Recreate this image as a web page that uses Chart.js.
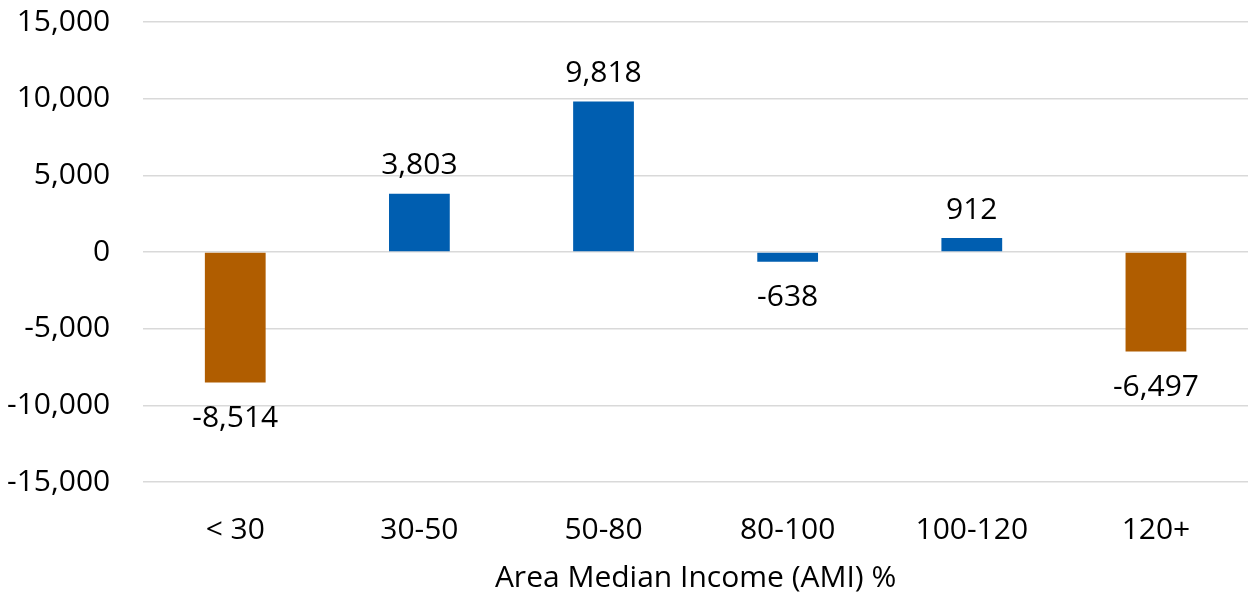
<!DOCTYPE html>
<html>
<head>
<meta charset="utf-8">
<script src="https://cdn.jsdelivr.net/npm/chart.js@4/dist/chart.umd.min.js"></script>
<style>
  html, body { margin: 0; padding: 0; background: #ffffff; }
  #wrap { width: 1248px; height: 596px; position: relative; }
</style>
</head>
<body>
<div id="wrap"><canvas id="amiChart"></canvas></div>
<script>
// AMI bands and net change per band
const categories = ['< 30', '30-50', '50-80', '80-100', '100-120', '120+'];
const netChange = [-8514, 3803, 9818, -638, 912, -6497];
const yTicks = [-15000, -10000, -5000, 0, 5000, 10000, 15000];

const BLUE = '#005EB0';
const ORANGE = '#B05D00';
const FONT = "'Open Sans', 'Noto Sans', sans-serif";
const FONT_SIZE = 30;

const fmt = v => v.toLocaleString('en-US');

// the two big losses are drawn in orange, everything else in blue
const barColors = netChange.map((v, i) => (i === 0 || i === categories.length - 1) ? ORANGE : BLUE);

// value labels: above positive bars, below negative ones
const valueLabels = {
    id: 'valueLabels',
    afterDatasetsDraw(chart) {
        const ctx = chart.ctx;
        const meta = chart.getDatasetMeta(0);
        ctx.save();
        ctx.font = `${FONT_SIZE}px ${FONT}`;
        ctx.fillStyle = '#000';
        ctx.textAlign = 'center';
        meta.data.forEach((bar, i) => {
            const v = netChange[i];
            if (v >= 0) {
                ctx.textBaseline = 'bottom';
                ctx.fillText(fmt(v), bar.x, bar.y - 13);
            } else {
                ctx.textBaseline = 'top';
                ctx.fillText(fmt(v), bar.x, bar.y + 21);
            }
        });
        ctx.restore();
    }
};

new Chart(document.getElementById('amiChart'), {
    type: 'bar',
    data: {
        labels: categories,
        datasets: [{
            data: netChange,
            backgroundColor: barColors,
            borderWidth: 0,
            barPercentage: 0.33,
            categoryPercentage: 1.0
        }]
    },
    options: {
        responsive: true,
        maintainAspectRatio: false,
        animation: false,
        layout: { padding: { top: 0, right: 0, left: 3, bottom: 0 } },
        plugins: {
            legend: { display: false },
            tooltip: { enabled: false }
        },
        scales: {
            x: {
                grid: { display: false, drawTicks: false },
                border: { display: false },
                ticks: { color: '#000', font: { family: FONT, size: FONT_SIZE }, padding: 30 },
                title: {
                    display: true,
                    text: 'Area Median Income (AMI) %',
                    color: '#000',
                    font: { family: FONT, size: FONT_SIZE },
                    padding: { top: -18, bottom: 0 }
                }
            },
            y: {
                min: -15000,
                max: 15000,
                afterBuildTicks: axis => { axis.ticks = yTicks.map(v => ({ value: v })); },
                // invisible tick marks keep the gap between labels and gridlines
                grid: { color: '#D9D9D9', lineWidth: 1.5, drawTicks: true, tickLength: 29, tickColor: 'rgba(0,0,0,0)' },
                border: { display: false },
                ticks: {
                    color: '#000',
                    font: { family: FONT, size: FONT_SIZE },
                    padding: 4,
                    callback: v => fmt(v)
                }
            }
        }
    },
    plugins: [valueLabels]
});
</script>
</body>
</html>
